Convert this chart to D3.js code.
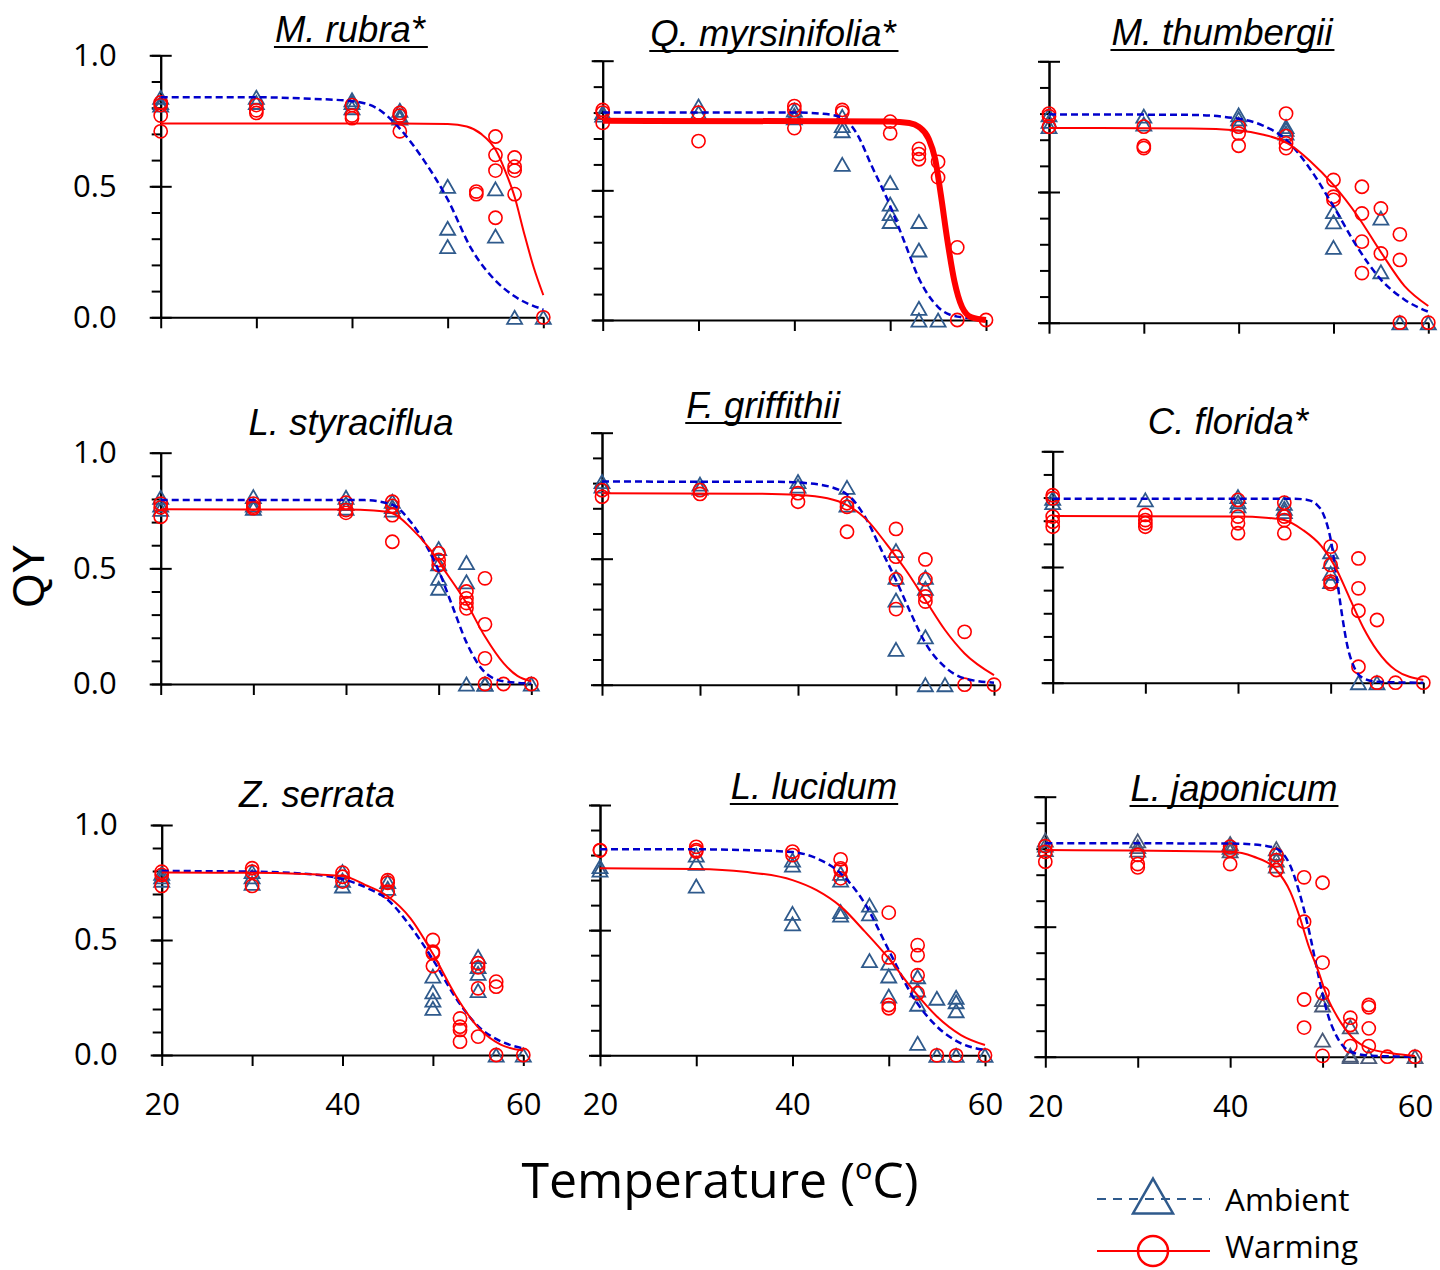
<!DOCTYPE html>
<html><head><meta charset="utf-8">
<script src="https://cdn.jsdelivr.net/npm/d3@7"></script>
<style>body{margin:0;background:#fff} svg{display:block}</style>
</head><body>
<svg id="c" width="1440" height="1270"></svg>
<script>
// ---------- DATA ----------
// point rows: [temperature, qy values...]
const species = ["M. rubra*","Q. myrsinifolia*","M. thumbergii","L. styraciflua","F. griffithii","C. florida*","Z. serrata","L. lucidum","L. japonicum"];
const underlined = [true,true,true,false,true,false,false,true,true];
const xTicks = [20,30,40,50,60];
const xTickLabels = [20,40,60];
const yMajor = [0,0.5,1];
const yMinor = [0,0.1,0.2,0.3,0.4,0.5,0.6,0.7,0.8,0.9,1.0];

const rubraAmb = [[20,0.84,0.82,0.81],[30,0.84,0.82],[40,0.83,0.82,0.80],[45,0.79,0.77,0.76],[50,0.50,0.34,0.27],[55,0.49,0.31],[57,0],[60,0]];
const rubraWarm = [[20,0.82,0.81,0.77,0.71],[30,0.81,0.79,0.78],[40,0.81,0.77,0.76],[45,0.78,0.77,0.71],[53,0.48,0.47],[55,0.69,0.62,0.56,0.38],[57,0.61,0.575,0.56,0.47],[60,0]];
const rubraAmbFit = [[20,0.84],[30,0.84],[35,0.835],[40,0.825],[42.5,0.80],[45,0.72],[47.5,0.6],[50,0.45],[52.5,0.26],[55,0.14],[57,0.08],[60,0.03]];
const rubraWarmFit = [[20,0.74],[45,0.74],[50,0.738],[52,0.728],[53.5,0.70],[55,0.64],[56,0.56],[57,0.46],[58,0.32],[59,0.19],[60,0.085]];

const myrsAmb = [[20,0.80,0.79],[30,0.825,0.80],[40,0.81,0.79,0.78],[45,0.785,0.75,0.73,0.60],[50,0.53,0.447,0.41,0.38],[53,0.38,0.27,0.045,0],[55,0]];
const myrsWarm = [[20,0.81,0.80,0.76],[30,0.80,0.69],[40,0.825,0.81,0.74],[45,0.81,0.80],[50,0.765,0.72],[53,0.66,0.64,0.62],[55,0.61,0.55],[57,0.28,0],[60,0]];
const myrsAmbFit = [[20,0.80],[40,0.80],[43,0.795],[45,0.78],[46.5,0.72],[48,0.60],[50,0.44],[51.5,0.30],[53,0.16],[55,0.05],[57,0.013],[60,0.003]];
const myrsWarmFit = [[20,0.768],[50,0.766],[52,0.76],[53,0.745],[54,0.70],[54.7,0.62],[55.3,0.48],[56,0.30],[56.7,0.15],[57.5,0.05],[58.5,0.01],[60,0.0]];

const thumAmb = [[20,0.795,0.77,0.75],[30,0.79,0.76],[40,0.795,0.78,0.76],[45,0.75,0.74,0.725],[50,0.425,0.386,0.288],[55,0.40,0.195],[57,0],[60,0]];
const thumWarm = [[20,0.80,0.79,0.75],[30,0.75,0.676,0.668],[40,0.75,0.724,0.677],[45,0.80,0.714,0.686,0.668],[50,0.546,0.482,0.47],[53,0.52,0.418,0.31,0.19],[55,0.437,0.265],[57,0.338,0.24,0],[60,0]];
const thumAmbFit = [[20,0.797],[35,0.795],[40,0.78],[42.5,0.755],[45,0.70],[47.5,0.59],[50,0.445],[52.5,0.29],[55,0.165],[57.5,0.088],[60,0.042]];
const thumWarmFit = [[20,0.745],[35,0.743],[40,0.735],[42.5,0.72],[45,0.69],[47.5,0.62],[50,0.527],[52.5,0.41],[55,0.27],[57.5,0.14],[60,0.064]];

const styrAmb = [[20,0.807,0.774,0.755],[30,0.81,0.774,0.76],[40,0.807,0.78,0.76],[45,0.79,0.767,0.752],[50,0.586,0.52,0.457,0.414],[53,0.525,0.442,0],[55,0,0],[60,0]];
const styrWarm = [[20,0.78,0.764,0.723],[30,0.78,0.767,0.76],[40,0.784,0.752,0.74],[45,0.788,0.77,0.73,0.615],[50,0.565,0.536,0.514],[53,0.40,0.37,0.35,0.327],[55,0.457,0.258,0.111,0],[57,0],[60,0]];
const styrAmbFit = [[20,0.795],[42,0.795],[45,0.775],[47,0.70],[48.5,0.61],[50,0.49],[51.5,0.335],[53,0.18],[55,0.05],[57,0.012],[60,0.002]];
const styrWarmFit = [[20,0.755],[40,0.754],[43,0.75],[45,0.738],[47,0.675],[49,0.586],[51,0.47],[53,0.35],[55,0.205],[57,0.09],[58.5,0.035],[60,0.012]];

const grifAmb = [[20,0.806,0.788],[30,0.796,0.78],[40,0.806,0.788],[45,0.783,0.713],[50,0.532,0.426,0.336,0.14],[53,0.426,0.382,0.19,0],[55,0]];
const grifWarm = [[20,0.772,0.746],[30,0.772,0.757],[40,0.76,0.726],[45,0.72,0.706,0.607],[50,0.618,0.508,0.418,0.30],[53,0.497,0.418,0.35,0.33],[57,0.21,0],[60,0]];
const grifAmbFit = [[20,0.806],[38,0.805],[42,0.795],[45,0.755],[47,0.655],[48.5,0.535],[50,0.415],[51.5,0.285],[53,0.165],[55,0.07],[57,0.025],[60,0.008]];
const grifWarmFit = [[20,0.76],[35,0.758],[40,0.753],[43,0.74],[45,0.713],[47,0.655],[49,0.56],[51,0.455],[53,0.336],[55,0.217],[57,0.124],[60,0.038]];

const florAmb = [[20,0.797,0.778],[30,0.79],[40,0.804,0.782,0.764],[45,0.775,0.754,0.739],[50,0.566,0.523,0.473,0.437],[53,0],[55,0]];
const florWarm = [[20,0.81,0.797,0.718,0.696,0.674],[30,0.725,0.703,0.689,0.674],[40,0.79,0.718,0.689,0.646],[45,0.778,0.718,0.703,0.646],[50,0.588,0.509,0.437,0.427],[53,0.537,0.408,0.311,0.069],[55,0.271,0],[57,0],[60,0]];
const florAmbFit = [[20,0.795],[46,0.795],[47.5,0.79],[48.5,0.77],[49.3,0.72],[50,0.62],[50.6,0.47],[51.2,0.30],[51.8,0.16],[52.5,0.07],[53.5,0.02],[55,0.004],[60,0]];
const florWarmFit = [[20,0.72],[40,0.718],[43,0.713],[45,0.703],[47,0.66],[49,0.59],[50.5,0.50],[52,0.37],[53.5,0.24],[55,0.14],[57,0.055],[60,0.012]];

const serrAmb = [[20,0.79,0.775,0.76],[30,0.797,0.775,0.746],[40,0.797,0.76,0.735],[45,0.754,0.725],[50,0.343,0.275,0.239,0.203],[55,0.428,0.384,0.355,0.28],[57,0],[60,0]];
const serrWarm = [[20,0.797,0.783,0.735],[30,0.812,0.797,0.735],[40,0.793,0.775,0.754],[45,0.76,0.749,0.71],[50,0.50,0.449,0.442,0.387],[53,0.159,0.123,0.109,0.058],[55,0.399,0.381,0.29,0.08],[57,0.319,0.297,0],[60,0]];
const serrAmbFit = [[20,0.80],[30,0.797],[35,0.79],[40,0.765],[42.5,0.73],[45,0.675],[47.5,0.56],[50,0.415],[52.5,0.25],[55,0.125],[57.5,0.06],[60,0.029]];
const serrWarmFit = [[20,0.793],[30,0.792],[35,0.788],[40,0.778],[42.5,0.74],[45,0.69],[47.5,0.595],[50,0.44],[52.5,0.26],[55,0.12],[57.5,0.045],[60,0.02]];

const lucAmb = [[20,0.754,0.74],[30,0.80,0.767,0.676],[40,0.78,0.76,0.567,0.525],[45,0.727,0.70,0.574,0.56],[48,0.60,0.565,0.378],[50,0.368,0.317,0.237],[53,0.314,0.261,0.204,0.048],[55,0.228,0],[57,0.232,0.214,0.178,0],[60,0]];
const lucWarm = [[20,0.82,0.818],[30,0.833,0.82,0.814],[40,0.814,0.80],[45,0.783,0.747,0.74,0.707],[50,0.57,0.391,0.201,0.188],[53,0.44,0.40,0.32,0.248],[55,0],[57,0],[60,0]];
const lucAmbFit = [[20,0.823],[30,0.823],[35,0.82],[40,0.812],[42.5,0.787],[45,0.727],[47.5,0.607],[50,0.42],[52.5,0.235],[55,0.115],[57.5,0.048],[60,0.021]];
const lucWarmFit = [[20,0.747],[30,0.744],[35,0.733],[40,0.70],[42.5,0.66],[45,0.595],[47.5,0.495],[50,0.387],[52.5,0.262],[55,0.155],[57.5,0.081],[60,0.041]];

const japAmb = [[20,0.833,0.814,0.797],[30,0.83,0.808,0.795],[40,0.82,0.805,0.792],[45,0.80,0.782,0.756,0.733],[50,0.22,0.199,0.064],[53,0.115,0.006,0],[55,0],[60,0]];
const japWarm = [[20,0.81,0.788,0.75],[30,0.776,0.741,0.728],[40,0.808,0.795,0.741],[45,0.776,0.756,0.718],[48,0.69,0.519,0.22,0.112],[50,0.669,0.362,0.244,0.003],[53,0.15,0.122,0.041],[55,0.199,0.19,0.109,0.041],[57,0],[60,0]];
const japAmbFit = [[20,0.821],[40,0.82],[43,0.815],[45,0.80],[46.5,0.735],[47.5,0.63],[48.5,0.49],[49.5,0.32],[50.5,0.17],[51.5,0.08],[53,0.02],[55,0.004],[60,0.0]];
const japWarmFit = [[20,0.795],[40,0.788],[42.5,0.77],[45,0.718],[46.5,0.635],[47.5,0.54],[48.5,0.425],[49.5,0.333],[50.5,0.23],[52,0.13],[53.5,0.064],[55,0.032],[57.5,0.013],[60,0.003]];

const ambientPts = [rubraAmb,myrsAmb,thumAmb,styrAmb,grifAmb,florAmb,serrAmb,lucAmb,japAmb];
const warmingPts = [rubraWarm,myrsWarm,thumWarm,styrWarm,grifWarm,florWarm,serrWarm,lucWarm,japWarm];
const ambientFit = [rubraAmbFit,myrsAmbFit,thumAmbFit,styrAmbFit,grifAmbFit,florAmbFit,serrAmbFit,lucAmbFit,japAmbFit];
const warmingFit = [rubraWarmFit,myrsWarmFit,thumWarmFit,styrWarmFit,grifWarmFit,florWarmFit,serrWarmFit,lucWarmFit,japWarmFit];
const legendLabels = ["Ambient","Warming"];

// ---------- LAYOUT (pixel geometry, separate from data) ----------
// [x of 20, x of 60, y of 0, y of 1]
const frames = [
  [160.7,543.3,317.3,55.3],[602.7,986,320,60.7],[1049,1428.3,322.7,61.3],
  [160.7,531.3,684,452.7],[602,994,684.7,432.7],[1052.7,1423.3,682.7,451.3],
  [161.7,523.3,1055,825],[600,985,1055.3,805],[1045.3,1415,1056.7,796.7]
];
// title center x, baseline y
const titlePos = [[350,42],[773,46],[1222,45],[351,435],[763,418],[1228,434],[317,807],[814,799],[1234,801]];
const warmWidth = [2,6,2,2,2,2,2,2,2];
const triColor = ["#2f5a8c","#2f5a8c","#2f5a8c","#2f5a8c","#2f5a8c","#2f5a8c","#2f5a8c","#2f5a8c","#4a5a78"];

const FONT = "'Open Sans', sans-serif";
const TFONT = "'Liberation Sans', Arial, sans-serif";
const svg = d3.select("#c");
const triPath = (s) => `M0,${-s*0.87}L${s},${s*0.87}L${-s},${s*0.87}Z`;

species.forEach((name, i) => {
  const f = frames[i];
  const col = i % 3, row = Math.floor(i / 3);
  const x = d3.scaleLinear().domain([20,60]).range([f[0], f[1]]);
  const y = d3.scaleLinear().domain([0,1]).range([f[2], f[3]]);
  const g = svg.append("g");

  const styleAxis = sel => {
    sel.selectAll("path,line").attr("stroke","#000").attr("stroke-width",2);
    sel.selectAll("text").attr("font-family",FONT).attr("font-size",31).attr("fill","#000");
  };
  // minor y ticks
  g.append("g").attr("transform",`translate(${f[0]},0)`)
    .call(d3.axisLeft(y).tickValues(yMinor).tickSize(9).tickSizeOuter(0).tickFormat(""))
    .call(styleAxis);
  // major y ticks, left part with labels
  g.append("g").attr("transform",`translate(${f[0]},0)`)
    .call(d3.axisLeft(y).tickValues(yMajor).tickSize(11).tickSizeOuter(0).tickPadding(33)
      .tickFormat(col===0 ? d3.format(".1f") : ""))
    .call(styleAxis);
  // major y ticks, right part
  g.append("g").attr("transform",`translate(${f[0]},0)`)
    .call(d3.axisRight(y).tickValues(yMajor).tickSize(11).tickSizeOuter(0).tickFormat(""))
    .call(sel => sel.select(".domain").remove())
    .call(styleAxis);
  // x axis
  g.append("g").attr("transform",`translate(0,${f[2]})`)
    .call(d3.axisBottom(x).tickValues(xTicks).tickSize(11).tickSizeOuter(0).tickPadding(27)
      .tickFormat(d => (row===2 && xTickLabels.includes(d)) ? d : ""))
    .call(styleAxis);
  g.selectAll(".domain").attr("fill","none");

  // markers
  const flat = rows => rows.flatMap(r => r.slice(1).map(v => ({t:r[0], v})));
  g.append("g").selectAll("path").data(flat(ambientPts[i])).join("path")
    .attr("d", triPath(7.5))
    .attr("transform", d => `translate(${x(d.t)},${y(d.v)})`)
    .attr("fill","none").attr("stroke",triColor[i]).attr("stroke-width",1.8);
  g.append("g").selectAll("circle").data(flat(warmingPts[i])).join("circle")
    .attr("cx", d => x(d.t)).attr("cy", d => y(d.v)).attr("r",6.6)
    .attr("fill","none").attr("stroke","#ff0000").attr("stroke-width",1.6);

  // fitted curves
  const line = d3.line().x(d => x(d[0])).y(d => y(d[1])).curve(d3.curveMonotoneX);
  g.append("path").attr("d", line(ambientFit[i])).attr("fill","none")
    .attr("stroke","#0000cc").attr("stroke-width",2.5).attr("stroke-dasharray","7,4");
  g.append("path").attr("d", line(warmingFit[i])).attr("fill","none")
    .attr("stroke","#ff0000").attr("stroke-width",warmWidth[i]);

  // title
  const t = svg.append("text").attr("x",titlePos[i][0]).attr("y",titlePos[i][1])
    .attr("text-anchor","middle").attr("font-family",TFONT).attr("font-style","italic")
    .attr("font-size",36.5).attr("fill","#000").text(name);
  if (underlined[i]) {
    const bb = t.node().getBBox();
    svg.append("line").attr("x1",bb.x-1).attr("x2",bb.x+bb.width+1)
      .attr("y1",titlePos[i][1]+5).attr("y2",titlePos[i][1]+5)
      .attr("stroke","#000").attr("stroke-width",2);
  }
});

// axis titles
svg.append("text").attr("transform","translate(44,576) rotate(-90)")
  .attr("text-anchor","middle").attr("font-family",TFONT).attr("font-size",44).text("QY");
const xt = svg.append("text").attr("x",720).attr("y",1198).attr("text-anchor","middle")
  .attr("font-family",FONT).attr("font-size",50);
xt.append("tspan").text("Temperature (");
xt.append("tspan").attr("font-size",29).attr("dy",-19).text("o");
xt.append("tspan").attr("dy",19).text("C)");

// legend
const lg = svg.append("g");
lg.append("line").attr("x1",1097).attr("x2",1210).attr("y1",1199).attr("y2",1199)
  .attr("stroke","#2f5a8c").attr("stroke-width",2.2).attr("stroke-dasharray","9,7");
lg.append("path").attr("d",triPath(20)).attr("transform","translate(1153,1196)")
  .attr("fill","none").attr("stroke","#2f5a8c").attr("stroke-width",2.5);
lg.append("line").attr("x1",1097).attr("x2",1210).attr("y1",1251).attr("y2",1251)
  .attr("stroke","#ff0000").attr("stroke-width",2.2);
lg.append("circle").attr("cx",1153).attr("cy",1251).attr("r",15)
  .attr("fill","none").attr("stroke","#ff0000").attr("stroke-width",2.5);
lg.selectAll("text").data(legendLabels).join("text")
  .attr("x",1225).attr("y",(d,k)=> k===0 ? 1211 : 1258)
  .attr("font-family",FONT).attr("font-size",31.5).attr("fill","#000").text(d=>d);
</script>
</body></html>
